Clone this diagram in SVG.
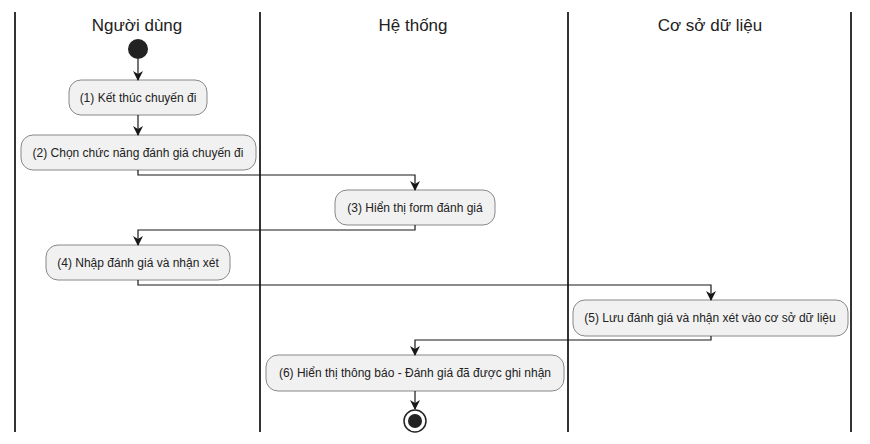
<svg xmlns="http://www.w3.org/2000/svg" width="870" height="444" viewBox="0 0 870 444">
<defs>
<style>
.lane{stroke:#333;stroke-width:2;fill:none}
.title{font-family:"Liberation Sans",Arial,sans-serif;font-size:17px;fill:#222;text-anchor:middle}
.node rect{fill:#f1f1f1;stroke:#888;stroke-width:1}
.node text{font-family:"Liberation Sans",Arial,sans-serif;font-size:12px;fill:#222;text-anchor:middle}
.conn path{stroke:#181818;stroke-width:1.2;fill:none;marker-end:url(#arr)}
</style>
<marker id="arr" viewBox="0 0 10 10" refX="9" refY="5" markerWidth="10" markerHeight="10" markerUnits="userSpaceOnUse" orient="auto">
<path d="M0,0 L10,5 L0,10 L3,5 Z" fill="#181818"/>
</marker>
</defs>
<rect width="870" height="444" fill="#fff"/>
<g id="lanes">
<line class="lane" x1="15" y1="12" x2="15" y2="432"/>
<line class="lane" x1="260" y1="12" x2="260" y2="432"/>
<line class="lane" x1="568" y1="12" x2="568" y2="432"/>
<line class="lane" x1="851" y1="12" x2="851" y2="432"/>
<text class="title" x="137" y="31">Người dùng</text>
<text class="title" x="413" y="31">Hệ thống</text>
<text class="title" x="710" y="31">Cơ sở dữ liệu</text>
</g>
<g id="start"><circle cx="138" cy="49" r="10" fill="#222"/></g>
<g id="n1" class="node"><rect x="69" y="80" width="138" height="35" rx="12"/><text x="138" y="102">(1) Kết thúc chuyến đi</text></g>
<g id="n2" class="node"><rect x="21" y="135" width="235" height="35" rx="12"/><text x="138" y="157">(2) Chọn chức năng đánh giá chuyến đi</text></g>
<g id="n3" class="node"><rect x="335" y="190" width="160" height="35" rx="12"/><text x="415" y="212">(3) Hiển thị form đánh giá</text></g>
<g id="n4" class="node"><rect x="46" y="245" width="184" height="35" rx="12"/><text x="138" y="267">(4) Nhập đánh giá và nhận xét</text></g>
<g id="n5" class="node"><rect x="573" y="300" width="275" height="36" rx="12"/><text x="710" y="322">(5) Lưu đánh giá và nhận xét vào cơ sở dữ liệu</text></g>
<g id="n6" class="node"><rect x="266" y="355" width="298" height="36" rx="12"/><text x="415" y="377">(6) Hiển thị thông báo - Đánh giá đã được ghi nhận</text></g>
<g id="end"><circle cx="415" cy="421" r="11" fill="#fff" stroke="#222" stroke-width="1.5"/><circle cx="415" cy="421" r="7" fill="#222"/></g>
<g id="connectors" class="conn">
<path d="M138,59 V80"/>
<path d="M138,115 V135"/>
<path d="M138,170 V175 H415 V190"/>
<path d="M415,225 V230 H138 V245"/>
<path d="M138,280 V285 H711 V300"/>
<path d="M711,336 V340 H415 V355"/>
<path d="M415,391 V409"/>
</g>
</svg>
